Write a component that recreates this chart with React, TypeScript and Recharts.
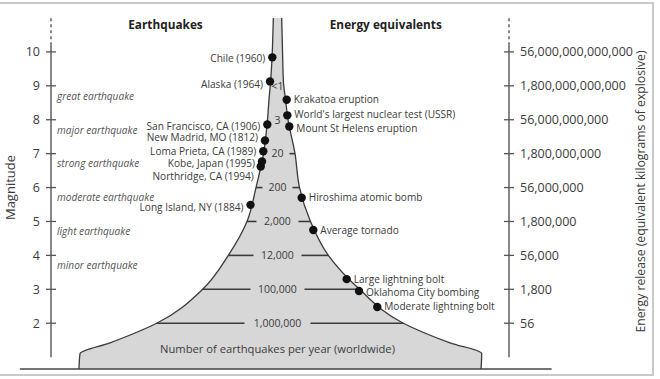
import React from "react";
import {
  ComposedChart,
  Area,
  Scatter,
  XAxis,
  YAxis,
  ReferenceLine,
  ReferenceDot,
} from "recharts";

// magnitude ticks and the matching energy release (kg of explosive)
const magTicks = [2, 3, 4, 5, 6, 7, 8, 9, 10];
const energyLabels = [
  "56",
  "1,800",
  "56,000",
  "1,800,000",
  "56,000,000",
  "1,800,000,000",
  "56,000,000,000",
  "1,800,000,000,000",
  "56,000,000,000,000",
];

// funnel outline: magnitude vs left / right edge (horizontal units, 0 = middle)
const funnelMag = [0.65, 1.1, 1.42, 2, 3, 4, 5, 6, 7, 8, 8.6, 9.1, 9.8, 11];
const funnelLeft = [-43.89, -43.67, -37.12, -26.92, -16.88, -11.29, -7.21, -5.24, -3.6, -2.73, -2.4, -2.07, -1.75, -1.46];
const funnelRight = [43.89, 44.04, 37.12, 26.92, 17.36, 10.55, 6.66, 4.26, 3.28, 1.75, 1.2, 0.76, 0.59, 0.37];

// number of earthquakes per year at each magnitude
const countMag = [2, 3, 4, 5, 6, 7, 8, 9];
const countLabels = ["1,000,000", "100,000", "12,000", "2,000", "200", "20", "3", "<1"];

// earthquake classes (lower magnitude bound)
const classNames = [
  "minor earthquake",
  "light earthquake",
  "moderate earthquake",
  "strong earthquake",
  "major earthquake",
  "great earthquake",
];
const classFrom = [3, 4, 5, 6, 7, 8];

// notable earthquakes
const quakeNames = [
  "Chile (1960)",
  "Alaska (1964)",
  "San Francisco, CA (1906)",
  "New Madrid, MO (1812)",
  "Loma Prieta, CA (1989)",
  "Kobe, Japan (1995)",
  "Northridge, CA (1994)",
  "Long Island, NY (1884)",
];
const quakeMag = [9.84, 9.13, 7.86, 7.39, 7.07, 6.77, 6.62, 5.49];
const quakeX = [-1.68, -2.18, -2.77, -3.28, -3.65, -3.93, -4.21, -6.44];

// energy equivalents
const energyNames = [
  "Krakatoa eruption",
  "World's largest nuclear test (USSR)",
  "Mount St Helens eruption",
  "Hiroshima atomic bomb",
  "Average tornado",
  "Large lightning bolt",
  "Oklahoma City bombing",
  "Moderate lightning bolt",
];
const energyMag = [8.59, 8.13, 7.8, 5.7, 4.75, 3.3, 2.95, 2.48];
const energyX = [1.46, 1.59, 2.03, 4.74, 7.27, 14.56, 17.25, 21.24];

// label nudges in px, so the stacked names don't collide
const quakeNudge = [1, 3, 2, -3, 0, 2, 10, 3];
const energyNudge = [0, -1, 2, 0, 1, 0, 1, 0];

const FONT = "'Open Sans', 'Noto Sans', sans-serif";
const INK = "#3b3b3b";
const PX_PER_UNIT = 4.58;
const MID = -0.55;

const funnel = funnelMag
  .map((mag, i) => ({ mag, range: [funnelLeft[i], funnelRight[i]] }))
  .reverse();

const quakes = quakeNames.map((name, i) => ({ name, mag: quakeMag[i], x: quakeX[i], nudge: quakeNudge[i] }));
const energies = energyNames.map((name, i) => ({ name, mag: energyMag[i], x: energyX[i], nudge: energyNudge[i] }));
const classes = classNames.map((name, i) => ({ name, mag: classFrom[i] + 0.7, x: -50 }));
const counts = countLabels.map((label, i) => ({ label, mag: countMag[i], x: MID }));

const countLines = countMag.flatMap((mag, i) => {
  const k = funnelMag.indexOf(mag);
  if (k < 0) return [];
  const half = (countLabels[i].length * 6 + 12) / 2 / PX_PER_UNIT;
  const segs: { mag: number; a: number; b: number }[] = [];
  if (MID - half - funnelLeft[k] > 0.5) segs.push({ mag, a: funnelLeft[k], b: MID - half });
  if (funnelRight[k] - (MID + half) > 0.5) segs.push({ mag, a: MID + half, b: funnelRight[k] });
  return segs;
});

const LeftTick = ({ x, y, payload }: any) => (
  <g>
    <line x1={x - 5} x2={x + 5} y1={y} y2={y} stroke="#555" strokeWidth={1.3} />
    <text x={x - 11} y={y} dy={4.5} textAnchor="end" fontSize={12.5} fontFamily={FONT} fill={INK}>
      {payload.value}
    </text>
  </g>
);

const RightTick = ({ x, y, payload }: any) => (
  <g>
    <line x1={x - 5} x2={x + 5} y1={y} y2={y} stroke="#555" strokeWidth={1.3} />
    <text x={x + 11} y={y} dy={4.5} textAnchor="start" fontSize={12.5} fontFamily={FONT} fill={INK}>
      {energyLabels[magTicks.indexOf(payload.value)]}
    </text>
  </g>
);

const QuakeDot = (p: any) => (
  <g>
    <circle cx={p.cx} cy={p.cy} r={4.2} fill="#111" />
    <text x={p.cx - 7} y={p.cy + p.payload.nudge} dy={3.5} textAnchor="end" fontSize={10.1} fontFamily={FONT} fill={INK}>
      {p.payload.name}
    </text>
  </g>
);

const EnergyDot = (p: any) => (
  <g>
    <circle cx={p.cx} cy={p.cy} r={4.2} fill="#111" />
    <text x={p.cx + 7} y={p.cy + p.payload.nudge} dy={3.5} textAnchor="start" fontSize={10.1} fontFamily={FONT} fill={INK}>
      {p.payload.name}
    </text>
  </g>
);

const ClassLabel = (p: any) => (
  <text x={p.cx + 6} y={p.cy} dy={3.6} fontSize={10.1} fontStyle="italic" fontFamily={FONT} fill="#555">
    {p.payload.name}
  </text>
);

const CountLabel = (p: any) => (
  <text x={p.cx} y={p.cy} dy={3.8} textAnchor="middle" fontSize={10.5} fontFamily={FONT} fill={INK}>
    {p.payload.label}
  </text>
);

const note = (text: string, size: number, bold = false) => (p: any) => (
  <text
    x={p.cx}
    y={p.cy}
    dy={size * 0.36}
    textAnchor="middle"
    fontSize={size}
    fontWeight={bold ? 700 : 400}
    fontFamily={FONT}
    fill={bold ? "#222" : INK}
  >
    {text}
  </text>
);

const App: React.FC = () => {
  return (
    <div style={{ position: "absolute", left: 0, top: 0, width: 660, height: 379, background: "#fff", overflow: "hidden" }}>
      <div
        style={{
          position: "absolute",
          left: -10,
          top: 2,
          width: 660,
          height: 370,
          border: "2px solid #c9c9c9",
        }}
      />
      <ComposedChart
        width={660}
        height={379}
        layout="vertical"
        data={funnel}
        margin={{ top: 18, right: 8, bottom: 10, left: 0 }}
        style={{ position: "absolute", left: 0, top: 0 }}
      >
        <XAxis type="number" dataKey="x" domain={[-50, 50]} hide />
        <YAxis
          yAxisId="mag"
          type="number"
          dataKey="mag"
          domain={[0.65, 11]}
          reversed
          ticks={magTicks}
          interval={0}
          width={51}
          axisLine={false}
          tickSize={0}
          tickMargin={0}
          tick={LeftTick}
          label={{
            content: ({ viewBox }: any) => (
              <text
                x={11}
                y={viewBox.y + viewBox.height / 2 - 6}
                transform={`rotate(-90 11 ${viewBox.y + viewBox.height / 2 - 6})`}
                textAnchor="middle"
                dy={4}
                fontSize={13}
                fontFamily={FONT}
                fill={INK}
              >
                Magnitude
              </text>
            ),
          }}
        />
        <YAxis
          yAxisId="energy"
          orientation="right"
          type="number"
          dataKey="mag"
          domain={[0.65, 11]}
          reversed
          ticks={magTicks}
          interval={0}
          width={143}
          axisLine={false}
          tickSize={0}
          tickMargin={0}
          tick={RightTick}
          label={{
            content: ({ viewBox }: any) => {
              const cx = viewBox.x + 132;
              const cy = viewBox.y + viewBox.height / 2 - 2;
              return (
                <text
                  x={cx}
                  y={cy}
                  transform={`rotate(-90 ${cx} ${cy})`}
                  textAnchor="middle"
                  dy={4}
                  fontSize={12.2}
                  fontFamily={FONT}
                  fill={INK}
                >
                  Energy release (equivalent kilograms of explosive)
                </text>
              );
            },
          }}
        />

        <Area
          yAxisId="mag"
          dataKey="range"
          type="monotone"
          fill="#d7d7d7"
          fillOpacity={1}
          stroke="#3a3a3a"
          strokeWidth={1.3}
          dot={false}
          activeDot={false}
          isAnimationActive={false}
        />

        {/* axis spines: solid from 1 to just above 10, dashed above */}
        <ReferenceLine yAxisId="mag" segment={[{ x: -50, y: 1 }, { x: -50, y: 10.2 }]} stroke="#555" strokeWidth={1.4} />
        <ReferenceLine yAxisId="mag" segment={[{ x: -50, y: 10.2 }, { x: -50, y: 11 }]} stroke="#555" strokeWidth={1.4} strokeDasharray="3 3" />
        <ReferenceLine yAxisId="mag" segment={[{ x: 50, y: 1 }, { x: 50, y: 10.2 }]} stroke="#555" strokeWidth={1.4} />
        <ReferenceLine yAxisId="mag" segment={[{ x: 50, y: 10.2 }, { x: 50, y: 11 }]} stroke="#555" strokeWidth={1.4} strokeDasharray="3 3" />

        {/* ground line */}
        <ReferenceLine
          yAxisId="mag"
          segment={[{ x: -56.8, y: 0.65 }, { x: 59.3, y: 0.65 }]}
          stroke="#444"
          strokeWidth={1.6}
          ifOverflow="visible"
        />

        {countLines.map((s, i) => (
          <ReferenceLine
            key={`cl-${i}`}
            yAxisId="mag"
            segment={[{ x: s.a, y: s.mag }, { x: s.b, y: s.mag }]}
            stroke="#3a3a3a"
            strokeWidth={1.6}
          />
        ))}

        <Scatter yAxisId="mag" data={counts} shape={CountLabel} isAnimationActive={false} />
        <Scatter yAxisId="mag" data={classes} shape={ClassLabel} isAnimationActive={false} />
        <Scatter yAxisId="mag" data={quakes} shape={QuakeDot} isAnimationActive={false} />
        <Scatter yAxisId="energy" data={energies} shape={EnergyDot} isAnimationActive={false} />

        <ReferenceDot yAxisId="mag" x={-25} y={10.79} r={0} shape={note("Earthquakes", 11.8, true)} />
        <ReferenceDot yAxisId="mag" x={23.1} y={10.79} r={0} shape={note("Energy equivalents", 11.8, true)} />
        <ReferenceDot yAxisId="mag" x={MID} y={1.24} r={0} shape={note("Number of earthquakes per year (worldwide)", 11.2)} />
      </ComposedChart>
    </div>
  );
};

export default App;
